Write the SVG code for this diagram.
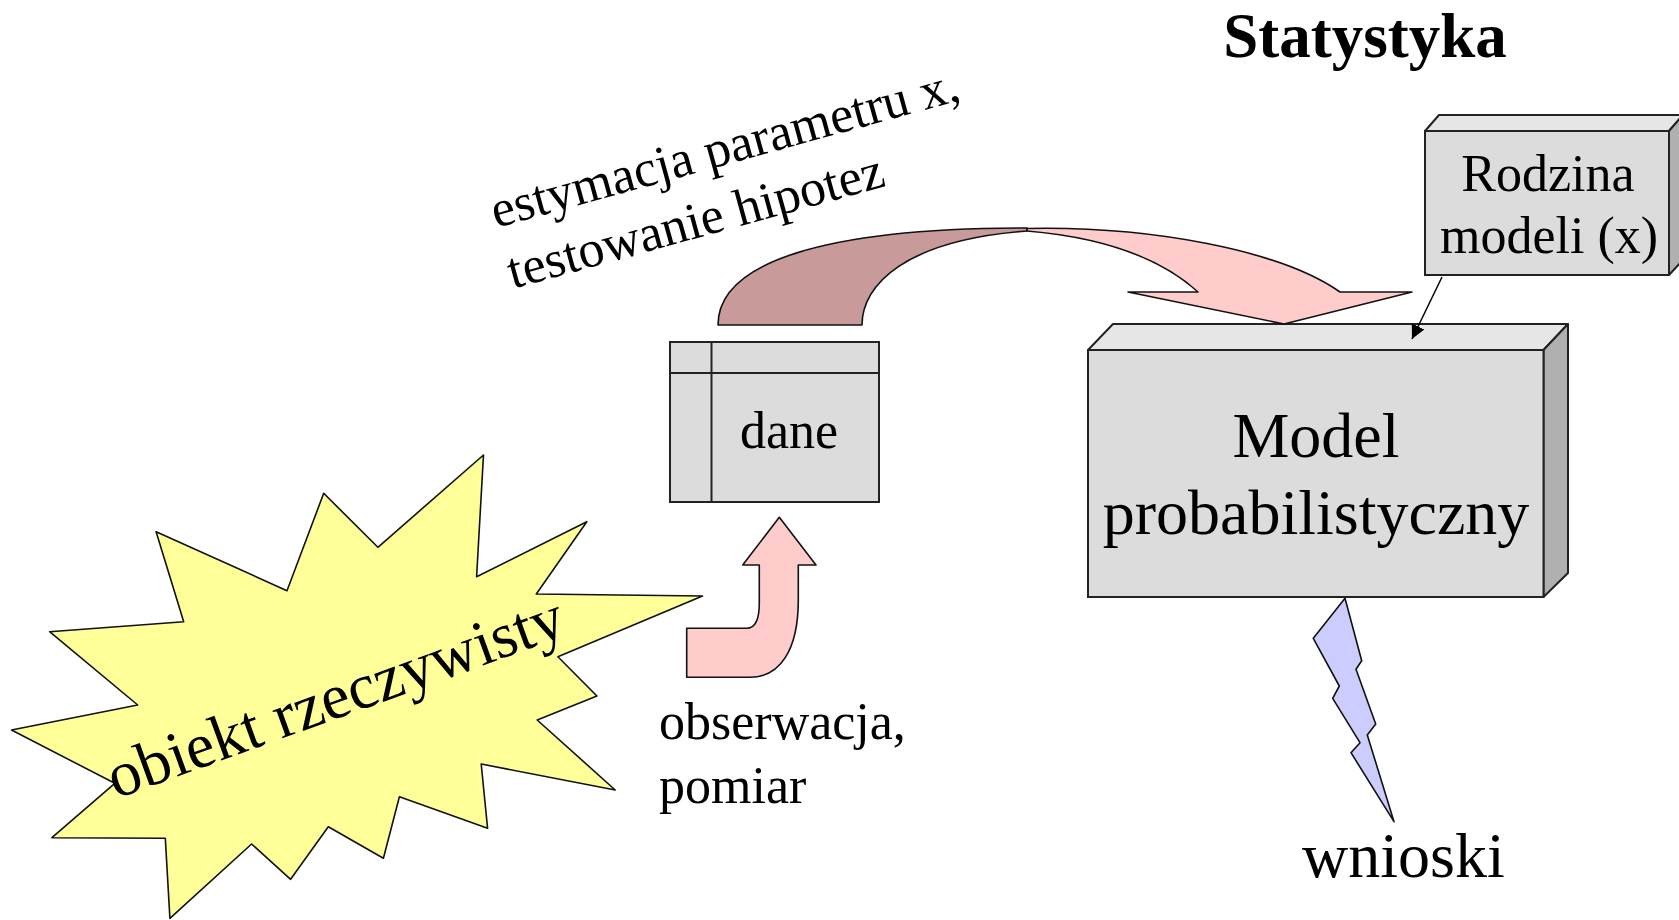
<svg xmlns="http://www.w3.org/2000/svg" width="1679" height="920" viewBox="0 0 1679 920">
<defs>
<marker id="ah" viewBox="0 0 10 10" refX="10" refY="5" markerWidth="14" markerHeight="14" markerUnits="userSpaceOnUse" orient="auto">
<path d="M0,0 L10,5 L0,10 Z" fill="#000"/>
</marker>
</defs>
<style>
text{font-family:"Liberation Serif","Times New Roman",serif;fill:#000}
.t52{font-size:52px}
.t64{font-size:64px}
.box{fill:#dcdcdc;stroke:#222;stroke-width:2}
.top{fill:#e6e6e6;stroke:#222;stroke-width:2;stroke-linejoin:round}
.side{fill:#b0b0b0;stroke:#222;stroke-width:2;stroke-linejoin:round}
.ol{stroke:#111;stroke-width:1.6;stroke-linejoin:round}
</style>
<rect width="1679" height="920" fill="#fff"/>

<g id="title">
<text x="1365" y="57" text-anchor="middle" style="font-weight:bold;font-size:63px">Statystyka</text>
</g>

<g id="obiekt">
<polygon class="ol" fill="#ffff99" points="483.5,455 476.6,576.7 586.8,521.7 536.3,594 702.5,596 557.9,656.7 596.9,696 537.2,720 615.2,790 481.2,764 487.6,828.3 399.4,796.7 383.4,858.3 328.3,826.7 290.6,879.3 251.6,844 169.9,918.3 165.3,838.3 51.9,837.7 114.8,783.3 11.5,730 137.7,705 49.6,631.7 183.7,621.7 156.1,531.7 287,590.7 323.7,493.3 377.9,547.3"/>
<text class="t64" x="116" y="799" transform="rotate(-20 116 799)">obiekt rzeczywisty</text>
</g>

<g id="dane">
<rect class="box" x="670" y="342" width="209" height="160"/>
<line x1="711.5" y1="342" x2="711.5" y2="502" stroke="#222" stroke-width="2"/>
<line x1="670" y1="373" x2="879" y2="373" stroke="#222" stroke-width="2"/>
<text class="t52" x="789" y="448" text-anchor="middle">dane</text>
</g>

<g id="model">
<polygon class="top" points="1088,350 1113,324 1568,324 1543.5,350"/>
<polygon class="side" points="1543.5,350 1568,324 1568,573 1543.5,597"/>
<rect class="box" x="1088" y="350" width="455.5" height="247"/>
<text class="t64" x="1316" y="457" text-anchor="middle">Model</text>
<text class="t64" x="1316" y="534" text-anchor="middle">probabilistyczny</text>
</g>

<g id="rodzina">
<polygon class="top" points="1425,131 1439,115 1683,115 1669,131"/>
<polygon class="side" points="1669,131 1683,115 1683,260 1669,275"/>
<rect class="box" x="1425" y="131" width="244" height="144"/>
<text class="t52" x="1548" y="191" text-anchor="middle">Rodzina</text>
<text class="t52" x="1549" y="253" text-anchor="middle">modeli (x)</text>
</g>

<g id="wnioski">
<text class="t64" x="1302" y="877">wnioski</text>
</g>

<g id="labels">
<text class="t52" transform="rotate(-15.4 496 228)"><tspan x="496" y="228">estymacja parametru x,</tspan><tspan x="496" y="291">testowanie hipotez</tspan></text>
<text class="t52"><tspan x="659" y="739">obserwacja,</tspan><tspan x="659" y="803">pomiar</tspan></text>
</g>

<g id="connectors">
<path class="ol" fill="#c99a9a" d="M718,325 C718,262 825,228 1027,228 L1027,231 C905,240 862,285 862,325 Z"/>
<path class="ol" fill="#ffcccc" d="M1027,228.5 C1150,226 1280,250 1340,292 L1412,292 L1284,324 L1128,292 L1198,292 C1165,262 1110,238 1027,231 Z"/>
<path class="ol" fill="#ffcccc" d="M686.7,628.3 L746.7,628.3 C755,628.3 759.3,620 759.3,603 L759.3,565 L742.7,565 L779.3,517.3 L816,565 L798.3,565 L798.3,600 C798.3,650 780,677.3 750,677.3 L686.7,677.3 Z"/>
<polygon class="ol" fill="#ccccff" points="1345,598.3 1313.3,638.3 1339.3,686 1332.7,698.3 1360,742.7 1351,752.7 1394,821.7 1367.3,735 1375.7,724 1356,669.3 1361.7,660.7"/>
<line x1="1442" y1="277" x2="1412" y2="339" stroke="#000" stroke-width="1.5" marker-end="url(#ah)"/>
</g>
</svg>
